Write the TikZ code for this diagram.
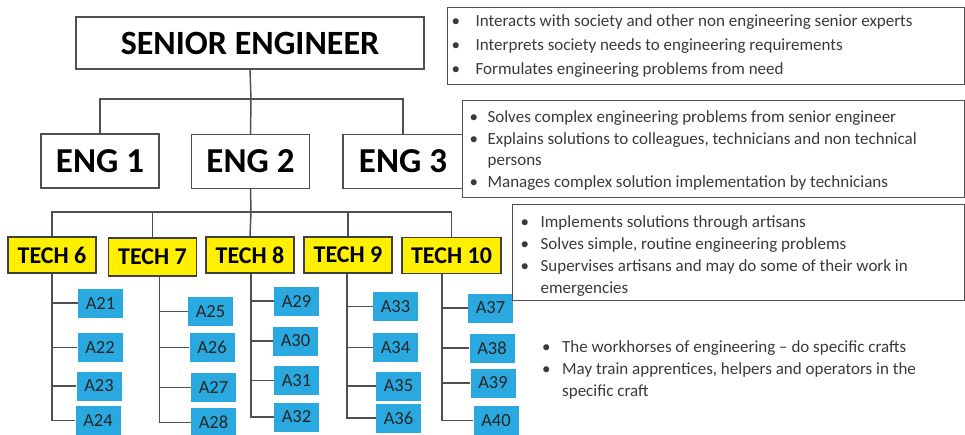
\documentclass[tikz,border=0pt]{standalone}
\usepackage{fontspec}
\setmainfont{Carlito}
\usetikzlibrary{positioning}

\definecolor{techyellow}{HTML}{FFF000}
\definecolor{artblue}{HTML}{29A9E0}
\definecolor{linegray}{HTML}{505050}
\definecolor{txtgray}{HTML}{3A3A3A}

\begin{document}
\begin{tikzpicture}[
x=1pt, y=-1pt,
boss/.style={rectangle, draw=linegray, line width=1.3pt, fill=white, inner sep=0pt, font=\bfseries\fontsize{34}{34}\selectfont},
eng/.style={rectangle, draw=linegray, line width=1.3pt, fill=white, inner sep=0pt, minimum width=118pt, minimum height=54pt, font=\bfseries\fontsize{35}{35}\selectfont},
tech/.style={rectangle, draw=black!75, line width=1.5pt, fill=techyellow, inner sep=0pt, minimum width=88pt, minimum height=36pt, font=\bfseries\fontsize{24}{24}\selectfont},
artisan/.style={rectangle, fill=artblue, text=black!85, inner sep=0pt, minimum width=45pt, minimum height=29pt, font=\fontsize{18.5}{18.5}\selectfont},
duties/.style={rectangle, draw=linegray, line width=1.2pt, fill=white, text=txtgray, inner ysep=0pt, anchor=north west},
conn/.style={draw=linegray, line width=1.5pt}]

\useasboundingbox (0,0) rectangle (965,435);

% levels
\node[boss, minimum width=348pt, minimum height=52pt] (senior) at (250,43) {SENIOR ENGINEER};

\node[eng] (eng1) at (100,161) {ENG 1};
\node[eng] (eng2) at (250.5,161.5) {ENG 2};
\node[eng, minimum width=120pt] (eng3) at (403,161.5) {ENG 3};

\node[tech] (tech6) at (52,255) {TECH 6};
\node[tech, minimum height=38pt] (tech7) at (152.5,257) {TECH 7};
\node[tech] (tech8) at (250,255) {TECH 8};
\node[tech] (tech9) at (348,255) {TECH 9};
\node[tech, minimum width=99pt] (tech10) at (451.5,255.5) {TECH 10};

\node[artisan] (a21) at (100.5,303) {A21};
\node[artisan] (a22) at (100,347.5) {A22};
\node[artisan] (a23) at (99,386) {A23};
\node[artisan] (a24) at (98,420.5) {A24};

\node[artisan] (a25) at (210.5,311.5) {A25};
\node[artisan] (a26) at (212,347.5) {A26};
\node[artisan] (a27) at (213.5,387.5) {A27};
\node[artisan] (a28) at (213.5,422.5) {A28};

\node[artisan] (a29) at (296.5,301) {A29};
\node[artisan] (a30) at (295.5,341) {A30};
\node[artisan] (a31) at (296.5,380.5) {A31};
\node[artisan] (a32) at (296.5,417) {A32};

\node[artisan] (a33) at (395.5,306.5) {A33};
\node[artisan] (a34) at (395.5,347.5) {A34};
\node[artisan] (a35) at (398.5,386) {A35};
\node[artisan] (a36) at (398.5,418) {A36};

\node[artisan] (a37) at (490.5,308) {A37};
\node[artisan] (a38) at (492,348) {A38};
\node[artisan] (a39) at (493,383) {A39};
\node[artisan] (a40) at (496,420.5) {A40};

% duties
\node[duties, inner xsep=4pt, minimum height=77pt, font=\fontsize{17}{24}\selectfont] (seniorjob) at (447,7) {%
\begin{tabular}{@{}p{24pt}@{}p{485pt}@{}}
\textbullet & Interacts with society and other non engineering senior experts\\
\textbullet & Interprets society needs to engineering requirements\\
\textbullet & Formulates engineering problems from need
\end{tabular}};

\node[duties, inner xsep=7pt, minimum height=97pt, font=\fontsize{17}{21.5}\selectfont] (engjob) at (462,100) {%
\begin{tabular}{@{}p{18pt}@{}p{470pt}@{}}
\noalign{\vskip 3pt}
\textbullet & Solves complex engineering problems from senior engineer\\
\textbullet & Explains solutions to colleagues, technicians and non technical\newline persons\\
\textbullet & Manages complex solution implementation by technicians
\end{tabular}};

\node[duties, inner xsep=8pt, minimum height=96pt, font=\fontsize{17}{22}\selectfont] (techjob) at (512,204) {%
\begin{tabular}{@{}p{20pt}@{}p{416pt}@{}}
\noalign{\vskip 8pt}
\textbullet & Implements solutions through artisans\\
\textbullet & Solves simple, routine engineering problems\\
\textbullet & Supervises artisans and may do some of their work in\newline emergencies
\end{tabular}};

\node[text=txtgray, anchor=west, inner sep=0pt, font=\fontsize{17}{22}\selectfont] (artisanjob) at (542,370) {%
\begin{tabular}{@{}p{20pt}@{}p{380pt}@{}}
\textbullet & The workhorses of engineering -- do specific crafts\\
\textbullet & May train apprentices, helpers and operators in the\newline specific craft
\end{tabular}};

% connectors
\coordinate (engbus) at (251,99);
\coordinate (techbus) at (251,212);

\draw[conn] (senior.south) -- (engbus);
\draw[conn] (eng1.north) |- (engbus) -| (eng3.north);
\draw[conn] (engbus) -- (eng2.north);

\draw[conn] (eng2.south) -- (techbus);
\draw[conn] (tech6.north) |- (techbus) -| (tech10.north);
\draw[conn] (techbus -| tech7.north) -- (tech7.north);
\draw[conn] (techbus) -- (tech8.north);
\draw[conn] (techbus -| tech9.north) -- (tech9.north);

\coordinate (t6) at (tech6.south);
\coordinate (t7) at ([xshift=7pt]tech7.south);
\coordinate (t8) at ([xshift=1pt]tech8.south);
\coordinate (t9) at ([xshift=-1pt]tech9.south);
\coordinate (t10) at ([xshift=-9.5pt]tech10.south);

\draw[conn] (t6) |- (a24.west) (t6 |- a21.west) -- (a21.west)
  (t6 |- a22.west) -- (a22.west) (t6 |- a23.west) -- (a23.west);
\draw[conn] (t7) |- (a28.west) (t7 |- a25.west) -- (a25.west)
  (t7 |- a26.west) -- (a26.west) (t7 |- a27.west) -- (a27.west);
\draw[conn] (t8) |- (a32.west) (t8 |- a29.west) -- (a29.west)
  (t8 |- a30.west) -- (a30.west) (t8 |- a31.west) -- (a31.west);
\draw[conn] (t9) |- (a36.west) (t9 |- a33.west) -- (a33.west)
  (t9 |- a34.west) -- (a34.west) (t9 |- a35.west) -- (a35.west);
\draw[conn] (t10) |- (a40.west) (t10 |- a37.west) -- (a37.west)
  (t10 |- a38.west) -- (a38.west) (t10 |- a39.west) -- (a39.west);
\end{tikzpicture}
\end{document}
